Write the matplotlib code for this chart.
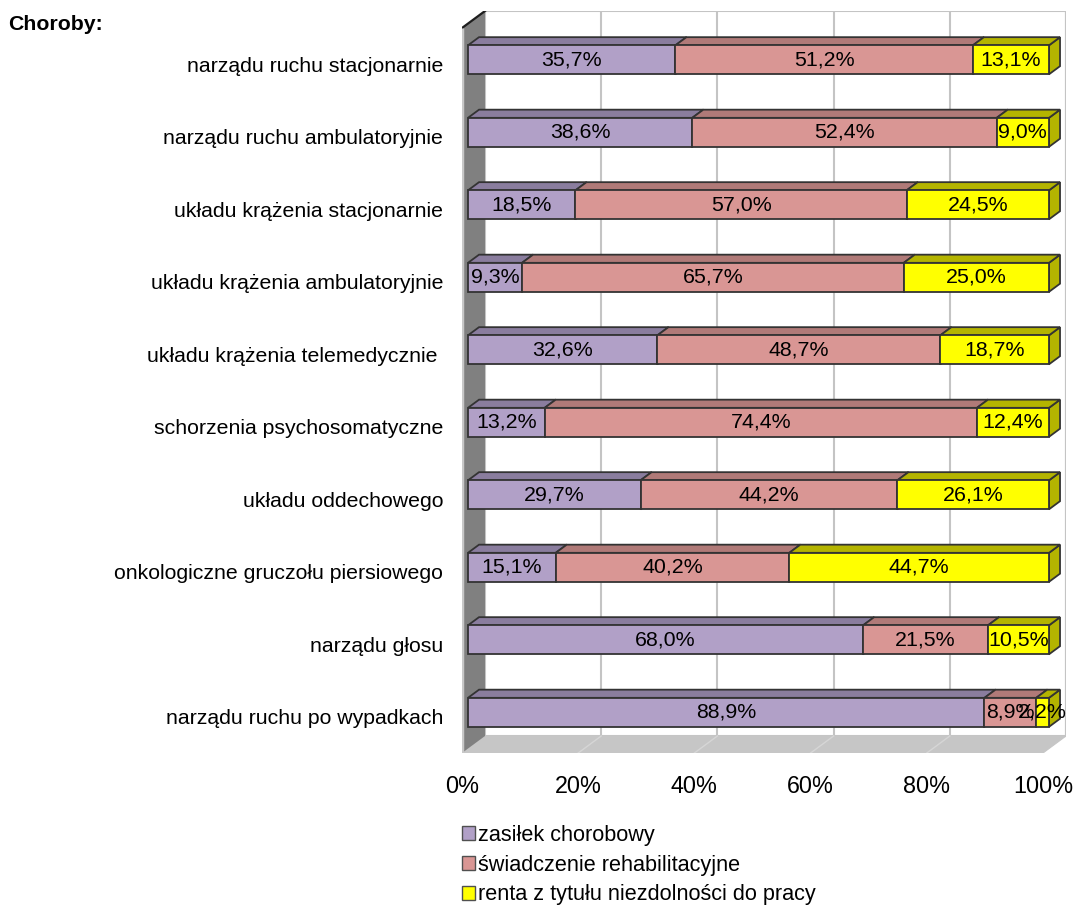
import matplotlib
matplotlib.use("Agg")
import matplotlib.pyplot as plt
from matplotlib.patches import Polygon, Patch

plt.rcParams['font.family'] = ['Liberation Sans', 'DejaVu Sans']

# ---- data -------------------------------------------------------------
categories = [
    "narządu ruchu stacjonarnie",
    "narządu ruchu ambulatoryjnie",
    "układu krążenia stacjonarnie",
    "układu krążenia ambulatoryjnie",
    "układu krążenia telemedycznie ",
    "schorzenia psychosomatyczne",
    "układu oddechowego",
    "onkologiczne gruczołu piersiowego",
    "narządu głosu",
    "narządu ruchu po wypadkach",
]
zasilek = [35.7, 38.6, 18.5, 9.3, 32.6, 13.2, 29.7, 15.1, 68.0, 88.9]
swiadczenie = [51.2, 52.4, 57.0, 65.7, 48.7, 74.4, 44.2, 40.2, 21.5, 8.9]
renta = [13.1, 9.0, 24.5, 25.0, 18.7, 12.4, 26.1, 44.7, 10.5, 2.2]
series_names = ["zasiłek chorobowy", "świadczenie rehabilitacyjne",
                "renta z tytułu niezdolności do pracy"]
x_ticks = [0, 20, 40, 60, 80, 100]
x_tick_labels = ["0%", "20%", "40%", "60%", "80%", "100%"]
title_text = "Choroby:"

# ---- style ------------------------------------------------------------
front_colors = ["#B1A0C7", "#D99694", "#FFFF00"]
top_colors = ["#8A7D9E", "#B07A78", "#B4B400"]
edge = "#333333"

W, H = 1073, 905
fig = plt.figure(figsize=(W / 100, H / 100), dpi=100)

# plot geometry (pixels)
front_left, front_right = 462, 1043
front_top, front_bottom = 28, 753
depth_px_x, depth_px_y = 23, 17
n = len(categories)
px_per_unit = (front_right - front_left) / 100.0
row_px = (front_bottom - front_top) / n
DX = depth_px_x / px_per_unit
DY = depth_px_y / row_px

ax_left = front_left
ax_right = front_right + depth_px_x
ax_top = front_top - depth_px_y
ax_bottom = front_bottom
ax = fig.add_axes([ax_left / W, 1 - ax_bottom / H,
                   (ax_right - ax_left) / W, (ax_bottom - ax_top) / H])
ax.set_xlim(0, 100 + DX)
ax.set_ylim(n - 0.5, -0.5 - DY)
for s in ax.spines.values():
    s.set_visible(False)
ax.patch.set_visible(False)

y_top, y_bot = -0.5, n - 0.5

# back wall
ax.add_patch(Polygon([(DX, y_top - DY), (100 + DX, y_top - DY),
                      (100 + DX, y_bot - DY), (DX, y_bot - DY)],
                     closed=True, facecolor="white", edgecolor="#C4C4C4",
                     lw=1.5, zorder=0))
for v in x_ticks[1:]:
    ax.plot([v + DX, v + DX], [y_top - DY, y_bot - DY], color="#C4C4C4",
            lw=1.5, zorder=0.5, solid_capstyle="butt")

# floor
ax.add_patch(Polygon([(0, y_bot), (100, y_bot), (100 + DX, y_bot - DY),
                      (DX, y_bot - DY)], closed=True, facecolor="#C6C6C6",
                     edgecolor="#C6C6C6", lw=0.8, zorder=0.6))
for v in x_ticks[1:-1]:
    ax.plot([v, v + DX], [y_bot, y_bot - DY], color="#D6D6D6", lw=1.0,
            zorder=0.7)

# side wall
ax.add_patch(Polygon([(0, y_top), (DX, y_top - DY), (DX, y_bot - DY),
                      (0, y_bot)], closed=True, facecolor="#808080",
                     edgecolor="none", zorder=0.8))
ax.plot([0, DX], [y_top, y_top - DY], color="#1E1E1E", lw=1.6, zorder=0.9)
ax.plot([0, 0], [y_top, y_bot], color="#C8C8C8", lw=2.5, zorder=0.9,
        solid_capstyle="butt")

# bars
Z0, Z1 = 0.26, 0.74
half = 0.2
series = [zasilek, swiadczenie, renta]
ox0, oy0 = Z0 * DX, -Z0 * DY
ox1, oy1 = Z1 * DX, -Z1 * DY
labels = []
for i in range(n):
    start = 0.0
    for k, vals in enumerate(series):
        v = vals[i]
        x0, x1 = start, start + v
        t0, b0 = i - half + oy0, i + half + oy0
        t1, b1 = i - half + oy1, i + half + oy1
        side = Polygon([(x1 + ox0, t0), (x1 + ox1, t1), (x1 + ox1, b1),
                        (x1 + ox0, b0)], closed=True,
                       facecolor=top_colors[k], edgecolor=edge, lw=1.3,
                       zorder=2 + i * 0.01)
        top = Polygon([(x0 + ox0, t0), (x1 + ox0, t0), (x1 + ox1, t1),
                       (x0 + ox1, t1)], closed=True,
                      facecolor=top_colors[k], edgecolor=edge, lw=1.3,
                      zorder=2 + i * 0.01)
        front = Polygon([(x0 + ox0, t0), (x1 + ox0, t0), (x1 + ox0, b0),
                         (x0 + ox0, b0)], closed=True,
                        facecolor=front_colors[k], edgecolor=edge, lw=1.3,
                        zorder=2 + i * 0.01)
        for p in (side, top, front):
            ax.add_patch(p)
        labels.append(((x0 + x1) / 2 + ox0, i + oy0,
                       f"{v:.1f}%".replace(".", ",")))
        start = x1

for x, y, s in labels:
    ax.text(x, y, s, ha="center", va="center", fontsize=15.4,
            color="black", zorder=10)

# axis labels
ax.set_xticks(x_ticks, x_tick_labels)
ax.set_yticks(range(n), categories)
ax.tick_params(axis="x", length=0, pad=16, labelsize=16.8)
ax.tick_params(axis="y", length=0, pad=13.5, labelsize=15.3)

fig.text(8 / W, 1 - 24 / H, title_text, fontsize=15.3, fontweight="bold",
         ha="left", va="center")

handles = [Patch(facecolor=c, edgecolor="#505050", lw=1.0)
           for c in front_colors]
fig.legend(handles, series_names, loc="upper left",
           bbox_to_anchor=(462 / W, 1 - 825 / H), frameon=False,
           fontsize=15.6, handlelength=0.6, handleheight=0.6,
           handletextpad=0.15, labelspacing=0.40, borderpad=0,
           borderaxespad=0)

fig.savefig("out.png", dpi=100)
